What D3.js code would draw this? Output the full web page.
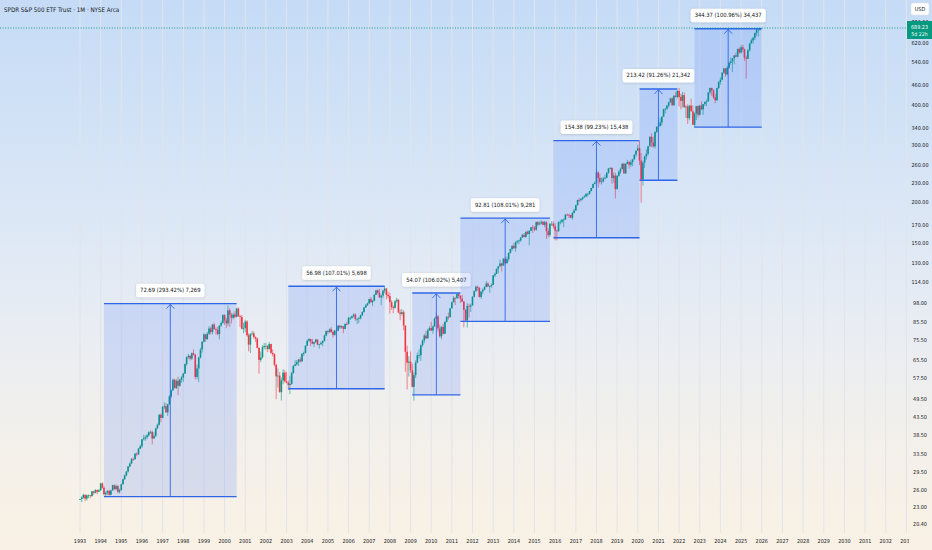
<!DOCTYPE html>
<html><head><meta charset="utf-8">
<script src="https://cdn.jsdelivr.net/npm/d3@7"></script>
<style>
html,body{margin:0;padding:0;overflow:hidden;background:#fff;}
svg{display:block;}
text{font-family:"Liberation Sans Narrow","DejaVu Sans Condensed","Roboto",sans-serif;}
</style></head><body>
<svg id="c" width="932" height="550"></svg>
<script>
// ---------------- DATA ----------------
const title = "SPDR S&P 500 ETF Trust · 1M · NYSE Arca";
const firstYear = 1993;
const firstOpen = 24.3;
const lastPrice = 689.23;
const countdown = "5d 22h";
const currency = "USD";

// monthly closes, one row per year (1993 .. 2025), dividend-adjusted
const closes = [
[24.35,24.61,25.07,24.43,24.99,25.0,24.87,25.73,25.47,25.96,25.63,25.89],
[27.21,26.39,25.19,25.48,25.79,25.10,25.89,26.87,26.14,26.69,25.63,25.95],
[27.05,28.03,28.79,29.60,30.67,31.33,32.32,32.31,33.60,33.44,34.81,35.41],
[37.21,37.46,37.76,38.27,39.14,39.23,37.43,38.14,40.21,41.26,44.28,43.33],
[46.78,47.05,45.05,47.68,50.47,52.66,56.78,53.52,56.36,54.42,56.85,57.74],
[59.31,63.48,66.66,67.26,65.99,68.59,67.80,57.92,61.53,66.47,70.40,74.37],
[78.31,75.78,78.73,81.71,79.67,84.01,81.32,80.81,78.50,83.41,85.0,89.92],
[86.46,84.72,92.91,90.05,88.08,90.19,88.71,94.10,89.06,88.62,81.54,81.86],
[85.78,77.87,72.87,78.47,78.86,76.89,76.06,71.19,65.37,66.56,71.56,72.10],
[72.11,70.61,73.20,68.71,68.08,63.15,58.16,58.45,52.02,56.51,59.74,56.13],
[55.62,54.68,55.13,59.60,62.63,63.34,64.37,65.52,64.74,68.30,68.78,72.27],
[74.88,75.79,74.55,73.30,74.19,75.52,72.93,73.10,73.79,74.82,77.71,80.23],
[79.74,81.24,79.69,78.09,80.43,80.41,83.31,82.37,82.94,81.47,84.34,84.26],
[88.07,88.11,89.08,90.17,87.38,87.39,87.84,89.70,91.91,94.80,96.36,97.58],
[100.67,98.48,99.46,103.77,107.14,105.24,101.87,103.18,106.88,108.46,103.68,102.79],
[98.57,95.14,94.57,99.07,100.13,91.52,90.62,91.72,83.40,69.27,64.08,64.59],
[60.70,54.03,58.65,64.15,67.55,67.57,72.58,75.01,77.70,76.16,80.53,81.96],
[80.54,82.84,87.71,89.0,81.71,77.30,82.62,78.70,85.59,88.75,88.55,94.32],
[98.39,101.53,101.42,104.32,102.91,101.03,98.86,93.25,86.55,95.88,95.40,96.21],
[102.37,106.52,109.86,109.04,102.20,106.25,107.59,109.71,112.37,110.15,110.46,111.24],
[119.10,120.42,124.75,127.01,129.64,127.70,134.01,129.82,133.69,139.64,143.56,146.95],
[144.39,150.62,151.66,152.60,155.81,158.78,156.39,162.28,159.76,163.47,167.48,166.77],
[164.79,173.83,170.81,172.26,174.07,170.41,173.77,162.90,158.59,171.76,171.84,168.83],
[163.56,162.88,173.63,174.10,176.78,176.94,183.23,183.01,182.79,179.24,185.36,188.73],
[195.99,203.27,203.19,205.04,207.41,208.41,212.45,212.57,216.67,221.48,227.69,229.93],
[247.36,237.73,231.34,231.97,236.98,238.13,246.71,254.17,255.27,237.54,241.79,219.60],
[241.48,248.66,253.11,263.06,245.76,262.70,266.15,261.34,265.82,271.26,280.49,288.51],
[293.52,268.83,235.20,265.03,277.03,282.13,297.67,318.53,306.03,297.57,329.57,341.81],
[343.56,352.54,367.49,386.76,388.88,397.52,406.57,418.35,398.44,426.0,422.45,440.87],
[422.2,411.1,428.1,392.5,394.6,363.4,397.3,381.7,346.7,375.6,395.8,372.4],
[397.5,387.1,401.5,407.8,409.6,436.1,450.2,442.7,421.5,412.7,449.9,469.8],
[477.3,502.0,517.6,496.0,519.8,537.9,543.9,556.4,567.6,562.0,594.2,579.3],
[601.0,592.5,558.4,554.1,588.2,617.4,630.8,642.8,665.5,680.6,681.5,689.23]
];
const highs = [
[24.4,24.86,25.3,25.2,25.15,25.15,25.05,25.75,25.8,26.1,26.05,26.15],
[27.3,27.4,26.6,25.7,26.0,26.0,26.0,26.95,27.0,27.0,26.9,26.2],
[27.15,28.15,29.0,29.7,30.8,31.6,32.6,32.7,33.8,33.9,35.0,35.8],
[37.3,38.4,38.3,38.7,39.4,39.6,39.6,39.1,40.4,41.6,44.5,44.7],
[47.2,48.4,48.1,47.9,50.9,53.0,57.3,57.2,57.0,58.0,57.2,58.4],
[59.7,63.7,67.0,68.2,67.7,68.9,70.4,68.2,63.2,67.0,71.2,74.6],
[79.0,78.5,79.7,83.0,82.8,84.3,85.1,82.3,82.7,83.6,86.0,90.4],
[90.3,88.2,96.3,94.3,91.2,91.3,92.4,94.6,94.9,90.0,90.0,85.1],
[86.9,86.6,78.9,79.0,80.4,80.0,77.2,76.6,71.5,69.4,72.6,73.7],
[73.8,72.6,74.2,73.3,70.4,68.5,63.4,61.5,60.0,57.6,61.2,60.8],
[60.0,56.5,58.4,60.1,63.0,65.2,65.3,65.8,66.6,68.6,69.3,72.5],
[75.6,76.3,75.9,75.9,74.5,75.9,75.6,73.3,74.6,75.0,78.2,80.6],
[80.7,81.8,82.5,80.6,80.8,81.6,83.7,83.8,83.6,83.2,84.8,85.7],
[88.8,88.9,89.8,90.9,91.0,88.1,88.8,90.1,92.3,95.2,97.2,98.3],
[101.0,102.2,100.2,104.3,107.3,107.7,108.2,104.0,107.3,110.3,108.7,106.0],
[105.2,99.9,96.2,99.9,101.6,100.6,93.5,93.8,93.0,83.5,72.3,67.1],
[69.4,63.6,59.8,65.2,68.9,70.5,72.9,75.6,78.6,80.4,81.5,83.0],
[85.7,83.5,88.3,91.5,89.9,84.0,83.1,84.5,86.1,89.3,91.4,94.6],
[99.0,102.8,102.0,104.9,104.9,103.5,103.7,99.3,93.7,97.8,97.3,97.5],
[102.6,107.0,110.8,110.7,109.6,106.3,108.6,110.2,114.3,113.4,110.9,112.6],
[119.4,121.5,125.1,127.4,133.1,130.3,134.6,135.0,136.2,140.2,144.0,147.4],
[149.8,151.7,153.1,153.3,156.2,159.9,160.8,162.6,163.7,164.0,168.0,170.3],
[169.1,174.4,175.0,174.5,176.2,175.2,175.4,175.0,166.4,172.5,175.0,174.9],
[172.4,164.9,174.7,176.6,177.2,178.6,183.9,184.9,184.3,183.2,186.9,191.0],
[196.7,204.0,206.3,206.0,208.3,210.8,213.2,213.9,217.1,221.8,228.5,232.0],
[251.8,249.0,245.0,238.7,239.4,243.0,247.9,255.4,257.1,256.5,247.1,247.0],
[242.6,250.7,256.1,263.7,264.5,264.2,270.4,268.4,270.5,272.3,281.3,288.8],
[301.0,308.8,283.8,268.7,278.3,291.4,298.3,319.1,326.5,318.4,331.4,342.8],
[358.1,364.2,368.6,388.7,390.3,398.6,408.8,419.8,421.1,428.2,437.0,443.4],
[450.5,431.9,438.2,436.3,398.2,401.0,398.3,417.4,398.3,378.8,396.5,397.8],
[399.2,409.0,401.6,409.0,414.6,436.9,451.9,451.0,446.4,432.3,451.9,472.1],
[485.7,503.4,518.6,518.5,526.2,544.1,558.5,556.7,568.1,579.0,595.3,600.8],
[609.8,611.7,595.6,566.7,593.9,618.4,639.5,647.5,666.6,688.5,685.6,691.5]
];
const lows = [
[24.2,23.8,24.4,23.98,24.1,24.5,24.5,24.75,25.1,25.35,25.2,25.6],
[25.85,26.2,25.0,24.65,25.1,24.95,25.0,25.8,26.0,25.9,25.4,25.3],
[25.9,27.0,27.9,28.6,29.4,30.5,31.2,31.9,32.2,33.0,33.3,34.7],
[35.0,36.9,36.8,37.2,37.9,38.6,35.9,37.3,37.8,40.0,41.0,42.0],
[43.2,46.2,44.9,43.9,47.6,49.8,52.4,53.4,53.2,50.9,54.0,55.6],
[55.9,59.2,62.8,65.8,65.1,65.3,67.4,56.9,56.9,55.8,66.0,68.8],
[74.0,74.3,75.3,78.0,78.3,78.4,81.0,78.3,77.9,75.6,82.6,84.5],
[83.8,81.9,83.2,82.6,84.7,87.2,88.0,88.5,88.9,82.5,81.1,78.9],
[79.6,77.0,69.5,68.6,77.7,76.0,74.3,71.0,59.3,64.3,66.0,70.5],
[70.2,69.1,70.4,68.4,67.0,62.4,49.5,53.7,51.8,49.0,55.0,55.6],
[55.3,52.8,51.3,54.8,59.2,62.5,62.8,62.6,64.2,64.3,67.2,68.5],
[72.2,74.3,72.0,73.0,71.6,73.7,72.5,70.8,72.6,72.0,74.5,77.3],
[78.4,79.1,79.2,76.6,77.6,79.9,80.2,81.4,81.6,79.0,81.3,83.6],
[84.2,86.8,87.3,88.3,86.3,84.3,84.8,87.1,89.3,91.5,94.6,96.0],
[97.5,98.0,95.8,99.1,103.6,104.0,101.7,96.4,101.3,105.0,100.4,101.1],
[90.8,93.3,91.0,94.0,98.1,91.0,86.6,89.4,80.6,60.1,53.0,58.1],
[59.6,53.8,49.0,57.5,63.8,66.0,64.9,71.7,73.6,75.8,76.2,80.3],
[80.3,78.7,82.8,87.5,79.9,76.5,75.8,78.3,78.8,85.3,87.0,88.4],
[94.3,98.3,96.5,100.6,101.0,97.9,98.5,82.4,86.0,82.2,88.3,91.8],
[96.2,101.9,106.0,106.7,101.8,100.8,104.1,107.1,109.5,109.7,105.3,109.0],
[111.2,117.7,120.2,120.9,126.7,122.6,127.6,129.1,129.6,131.5,139.1,141.8],
[143.5,140.8,149.2,148.5,151.2,155.4,156.1,155.3,159.0,147.5,163.1,161.0],
[163.1,163.4,168.9,170.2,171.3,170.2,167.6,154.2,156.0,156.6,169.0,166.4],
[152.7,152.6,162.4,171.1,172.2,167.6,176.8,181.6,179.0,178.8,176.8,185.3],
[188.7,195.4,201.0,201.1,203.0,206.3,208.0,208.3,211.0,216.2,220.9,227.3],
[229.9,221.9,228.2,226.9,230.1,235.4,237.3,244.9,252.6,228.0,230.0,205.5],
[219.6,239.9,244.9,253.1,244.8,244.5,262.0,254.0,257.2,258.7,271.3,276.6],
[288.5,260.7,199.5,225.4,255.2,270.6,278.8,297.2,295.6,295.0,293.2,327.3],
[340.3,343.5,345.2,367.4,375.7,385.1,392.3,405.2,397.0,397.4,421.5,418.3],
[394.8,386.8,392.8,391.8,363.9,349.1,358.0,381.0,346.6,338.7,358.8,365.1],
[370.0,384.4,372.1,396.0,396.7,408.4,430.2,425.7,416.7,403.8,410.5,447.8],
[461.2,477.2,498.1,487.9,493.6,515.6,531.0,504.2,532.2,558.9,561.1,574.5],
[574.4,580.8,546.1,481.1,553.0,583.2,617.0,618.1,632.8,651.8,648.8,677.0]
];

// price-scale and time-scale tick labels
const priceTicks = [20.40,23.00,26.00,29.50,33.50,38.50,43.50,49.50,57.50,65.50,75.50,85.50,98.00,114.00,130.00,150.00,170.00,200.00,230.00,260.00,300.00,340.00,400.00,460.00,540.00,620.00,720.00];
const yearTicks = d3.range(1993, 2034);

// price-range drawings
const rangeStarts = ["1994-03","2003-02","2009-02","2011-06","2015-12","2020-02","2022-10"];
const rangeEnds   = ["2000-08","2007-10","2011-06","2015-10","2020-02","2021-12","2026-01"];
const rangeFrom   = [24.77, 53.25, 51.00, 85.93, 155.58, 233.86, 341.10];
const rangeTo     = [97.46, 110.23, 105.07, 178.74, 309.96, 447.28, 685.47];
const rangeLabels = ["72.69 (293.42%) 7,269","56.98 (107.01%) 5,698","54.07 (106.02%) 5,407",
                     "92.81 (108.01%) 9,281","154.38 (99.23%) 15,438","213.42 (91.26%) 21,342",
                     "344.37 (100.96%) 34,437"];

// ---------------- CHART ----------------
const W = 932, H = 550, plotRight = 906, plotBottom = 533;
const svg = d3.select("#c");
const defs = svg.append("defs");
const grad = defs.append("linearGradient").attr("id","bg").attr("x1",0).attr("y1",0).attr("x2",0).attr("y2",1);
[[0,"#c5dbf6"],[0.35,"#d9e6f6"],[0.6,"#e9edf3"],[0.82,"#f4f0ea"],[1,"#f9f1e4"]]
  .forEach(([o,c])=>grad.append("stop").attr("offset",o).attr("stop-color",c));
const sh = defs.append("filter").attr("id","sh").attr("x","-20%").attr("y","-40%").attr("width","140%").attr("height","180%");
sh.append("feDropShadow").attr("dx",0).attr("dy",0.5).attr("stdDeviation",0.8).attr("flood-color","#000").attr("flood-opacity",0.18);
defs.append("clipPath").attr("id","plotclip").append("rect").attr("x",0).attr("y",0).attr("width",plotRight+3).attr("height",H);

svg.append("rect").attr("width",W).attr("height",H).attr("fill","url(#bg)");

const x = d3.scaleTime().domain([new Date(1993,0,1), new Date(2033,0,1)]).range([80, 906.4]);
const y = d3.scaleLog().domain([20.4, lastPrice]).range([524, 28]);
const parseM = d3.timeParse("%Y-%m");

// vertical grid
svg.append("g").selectAll("line").data(yearTicks).join("line")
  .attr("x1",d=>x(new Date(d,0,1))).attr("x2",d=>x(new Date(d,0,1)))
  .attr("y1",0).attr("y2",plotBottom)
  .attr("stroke","#e1e4ea").attr("stroke-width",1);

// candles
const bars = [];
closes.forEach((row,yi)=>row.forEach((c,mi)=>{
  const i = bars.length;
  const o = i===0 ? firstOpen : bars[i-1].c;
  const h = Math.max(highs[yi][mi], o, c), l = Math.min(lows[yi][mi], o, c);
  bars.push({date:new Date(firstYear+yi, mi, 1), o, h, l, c});
}));
const up = "#089981", dn = "#f23645";
const cg = svg.append("g");
cg.selectAll("line").data(bars).join("line")
  .attr("x1",d=>x(d.date)).attr("x2",d=>x(d.date))
  .attr("y1",d=>y(d.h)).attr("y2",d=>y(d.l))
  .attr("stroke",d=>d.c>=d.o?up:dn).attr("stroke-width",0.6);
cg.selectAll("rect").data(bars).join("rect")
  .attr("x",d=>x(d.date)-0.8).attr("width",1.6)
  .attr("y",d=>y(Math.max(d.o,d.c)))
  .attr("height",d=>Math.max(0.7, Math.abs(y(d.o)-y(d.c))))
  .attr("fill",d=>d.c>=d.o?up:dn);

// price-range drawings
const ranges = rangeStarts.map((s,i)=>({x0:x(parseM(s)), x1:x(parseM(rangeEnds[i])), from:rangeFrom[i], to:rangeTo[i], label:rangeLabels[i]}));
const rg = svg.append("g");
const blue = "#2f66e8";
ranges.forEach(r=>{
  const yt = y(r.to), yb = y(r.from), xm = (r.x0+r.x1)/2;
  rg.append("rect").attr("x",r.x0).attr("y",yt).attr("width",r.x1-r.x0).attr("height",yb-yt)
    .attr("fill","rgba(41,98,255,0.15)");
  rg.append("line").attr("x1",r.x0).attr("x2",r.x1).attr("y1",yt).attr("y2",yt).attr("stroke",blue).attr("stroke-width",1.4);
  rg.append("line").attr("x1",r.x0).attr("x2",r.x1).attr("y1",yb).attr("y2",yb).attr("stroke",blue).attr("stroke-width",1.4);
  rg.append("line").attr("x1",xm).attr("x2",xm).attr("y1",yb).attr("y2",yt+0.5).attr("stroke",blue).attr("stroke-width",0.9);
  rg.append("path").attr("d",`M${xm-4},${yt+5}L${xm},${yt+0.8}L${xm+4},${yt+5}`)
    .attr("fill","none").attr("stroke",blue).attr("stroke-width",0.9);
  const lg = rg.append("g");
  const t = lg.append("text").attr("x",xm).attr("y",yt-11.5).attr("text-anchor","middle")
    .attr("font-size",5.8).attr("fill","#131722").text(r.label);
  const tw = t.node().getComputedTextLength();
  lg.insert("rect","text").attr("x",xm-tw/2-4).attr("y",yt-20).attr("width",tw+8).attr("height",13.5)
    .attr("rx",2).attr("fill","#ffffff").attr("filter","url(#sh)");
});

// last price dotted line
svg.append("line").attr("x1",0).attr("x2",plotRight).attr("y1",y(lastPrice)).attr("y2",y(lastPrice))
  .attr("stroke",up).attr("stroke-width",0.9).attr("stroke-dasharray","1,1.6");

// title
svg.append("text").attr("x",4).attr("y",12).attr("font-size",6.2).attr("fill","#131722").text(title);

// time axis labels
svg.append("g").attr("clip-path","url(#plotclip)").selectAll("text").data(yearTicks).join("text")
  .attr("x",d=>x(new Date(d,0,1))).attr("y",543).attr("text-anchor","middle")
  .attr("font-size",5.4).attr("fill","#131722").text(d=>d);

// price axis
svg.append("line").attr("x1",plotRight+0.5).attr("x2",plotRight+0.5).attr("y1",0).attr("y2",plotBottom)
  .attr("stroke","#e1e4ea").attr("stroke-width",1);
svg.append("g").selectAll("text").data(priceTicks).join("text")
  .attr("x",920).attr("y",d=>y(d)+2).attr("text-anchor","middle")
  .attr("font-size",5.4).attr("fill","#131722").text(d=>d3.format(".2f")(d));

// currency tag
svg.append("rect").attr("x",911).attr("y",3).attr("width",18).attr("height",12).attr("rx",2)
  .attr("fill","#fff").attr("stroke","#e0e3eb").attr("stroke-width",0.6);
svg.append("text").attr("x",920).attr("y",11).attr("text-anchor","middle").attr("font-size",5.4)
  .attr("fill","#131722").text(currency);

// last price tag
const yl = y(lastPrice);
svg.append("rect").attr("x",907).attr("y",yl-7).attr("width",25).attr("height",18).attr("fill",up);
svg.append("text").attr("x",919.5).attr("y",yl+0.5).attr("text-anchor","middle").attr("font-size",5.4)
  .attr("fill","#fff").text(d3.format(".2f")(lastPrice));
svg.append("text").attr("x",919.5).attr("y",yl+7.5).attr("text-anchor","middle").attr("font-size",5.2)
  .attr("fill","#e8fff8").text(countdown);
</script>
</body></html>
